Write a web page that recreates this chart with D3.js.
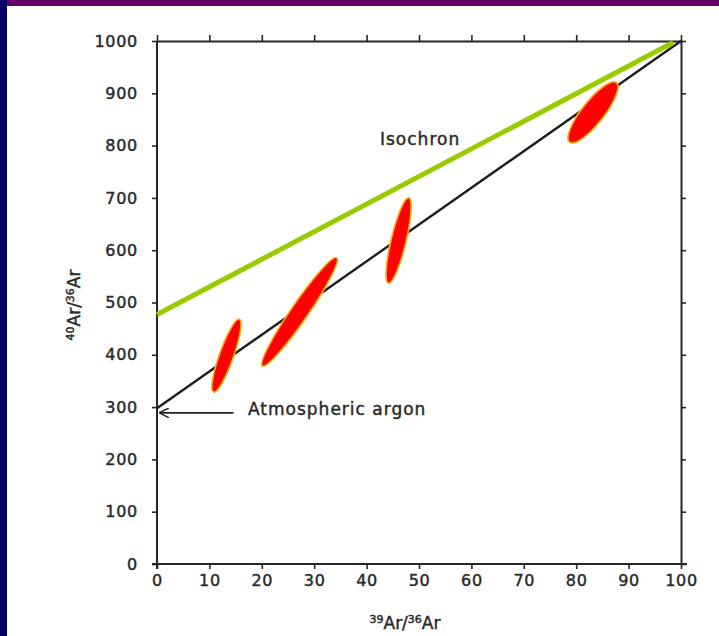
<!DOCTYPE html>
<html>
<head>
<meta charset="utf-8">
<script src="https://cdn.jsdelivr.net/npm/d3@7"></script>
<style>
  html, body { margin: 0; padding: 0; background: #ffffff; }
  svg { display: block; }
  text { font-family: "DejaVu Sans", Verdana, sans-serif; fill: #2a2a2a; stroke: #2a2a2a; stroke-width: 0.45px; }
</style>
</head>
<body>
<svg id="chart" width="719" height="636"></svg>
<script>
// Axis ticks
const xTicks = [0, 10, 20, 30, 40, 50, 60, 70, 80, 90, 100];
const yTicks = [0, 100, 200, 300, 400, 500, 600, 700, 800, 900, 1000];

// Reference line through atmospheric argon (40Ar/36Ar = 295.5 at 0)
const refLineX = [0, 100];
const refLineY = [298, 1000];

// Isochron fitted line
const isoLineX = [0, 98.5];
const isoLineY = [477, 997];

// Sample error ellipses: ends of the long axis in data units
const sampleTopX = [15.8, 34.4, 48.1, 87.8];
const sampleTopY = [470, 587, 702, 922];
const sampleBotX = [10.7, 20.0, 44.1, 78.6];
const sampleBotY = [327, 377, 535, 805];
const sampleHalfWidth = [7, 8.5, 7.5, 11];

const svg = d3.select("#chart");
const W = 719, H = 636;

// Slide frame
svg.append("rect").attr("x", 0).attr("y", 0).attr("width", W).attr("height", H).attr("fill", "#ffffff");
svg.append("rect").attr("x", 0).attr("y", 0).attr("width", W).attr("height", 6).attr("fill", "#660066");
svg.append("rect").attr("x", 0).attr("y", 0).attr("width", 7).attr("height", H).attr("fill", "#000066");

const x = d3.scaleLinear().domain([0, 100]).range([157, 681]);
const y = d3.scaleLinear().domain([0, 1000]).range([564, 41]);

const axisColor = "#262626";
const fmt = d3.format("d");

function styleAxis(g, showLabels) {
  g.select(".domain").attr("stroke", axisColor).attr("stroke-width", 2);
  g.selectAll(".tick line").attr("stroke", axisColor).attr("stroke-width", 1.6);
  g.selectAll(".tick text")
    .attr("font-size", 16)
    .attr("font-family", null)
    .attr("fill", "#2a2a2a")
    .style("letter-spacing", "0.7px")
    .style("display", showLabels ? null : "none");
}

svg.append("g").attr("transform", `translate(0,${y(0)})`)
  .call(d3.axisBottom(x).tickValues(xTicks).tickFormat(fmt).tickSize(5).tickSizeOuter(0).tickPadding(6))
  .call(g => styleAxis(g, true))
  .call(g => g.select(".domain").attr("d", `M${x(0) - 5},0H${x(100) + 6}`));

svg.append("g").attr("transform", `translate(0,${y(1000)})`)
  .call(d3.axisTop(x).tickValues(xTicks).tickSize(6).tickSizeOuter(0))
  .call(g => styleAxis(g, false));

svg.append("g").attr("transform", `translate(${x(0)},0)`)
  .call(d3.axisLeft(y).tickValues(yTicks).tickFormat(fmt).tickSize(5).tickSizeOuter(0).tickPadding(14))
  .call(g => styleAxis(g, true))
  .call(g => g.select(".domain").attr("d", `M0,${y(1000)}V${y(0) + 5}`));

svg.append("g").attr("transform", `translate(${x(100)},0)`)
  .call(d3.axisRight(y).tickValues(yTicks).tickSize(5).tickSizeOuter(0))
  .call(g => styleAxis(g, false));

// Reference line
const line = d3.line().x(d => x(d[0])).y(d => y(d[1]));
svg.append("path")
  .attr("d", line(d3.zip(refLineX, refLineY)))
  .attr("stroke", "#1e1e1e").attr("stroke-width", 2.4).attr("fill", "none");

// Arrow to the atmospheric argon intercept
const defs = svg.append("defs");
defs.append("marker")
  .attr("id", "arrowhead").attr("viewBox", "0 0 10 10")
  .attr("refX", 9).attr("refY", 5).attr("markerWidth", 10).attr("markerHeight", 10)
  .attr("markerUnits", "userSpaceOnUse").attr("orient", "auto")
  .append("path").attr("d", "M0,0L10,5L0,10").attr("fill", "none")
  .attr("stroke", "#222").attr("stroke-width", 1.5);

svg.append("line")
  .attr("x1", x(14.6)).attr("y1", y(289)).attr("x2", x(0.6)).attr("y2", y(289))
  .attr("stroke", "#222").attr("stroke-width", 1.6)
  .attr("marker-end", "url(#arrowhead)");

svg.append("text").attr("x", 248).attr("y", 415)
  .attr("font-size", 17).style("letter-spacing", "1px").text("Atmospheric argon");

svg.append("text").attr("x", 380).attr("y", 145)
  .attr("font-size", 17).style("letter-spacing", "1px").text("Isochron");

// Isochron line
svg.append("path")
  .attr("d", line(d3.zip(isoLineX, isoLineY)))
  .attr("stroke", "#99cc00").attr("stroke-width", 5).attr("fill", "none");

// Sample ellipses
const samples = d3.range(sampleTopX.length).map(i => {
  const x1 = x(sampleTopX[i]), y1 = y(sampleTopY[i]);
  const x2 = x(sampleBotX[i]), y2 = y(sampleBotY[i]);
  return {
    cx: (x1 + x2) / 2, cy: (y1 + y2) / 2,
    rx: Math.hypot(x1 - x2, y1 - y2) / 2 - 1,
    ry: sampleHalfWidth[i],
    angle: Math.atan2(y1 - y2, x1 - x2) * 180 / Math.PI
  };
});

svg.append("g").selectAll("ellipse").data(samples).join("ellipse")
  .attr("transform", d => `translate(${d.cx},${d.cy}) rotate(${d.angle})`)
  .attr("rx", d => d.rx).attr("ry", d => d.ry)
  .attr("fill", "#ff0000").attr("stroke", "#ffb000").attr("stroke-width", 1.6);

// Axis titles with isotope superscripts
function isotopeLabel(sel, a, b) {
  sel.append("tspan").attr("font-size", 11).attr("dy", -6).text(a);
  sel.append("tspan").attr("font-size", 17).attr("dy", 6).text("Ar/");
  sel.append("tspan").attr("font-size", 11).attr("dy", -6).text(b);
  sel.append("tspan").attr("font-size", 17).attr("dy", 6).text("Ar");
}

svg.append("text").attr("x", 405).attr("y", 629).attr("text-anchor", "middle")
  .call(t => isotopeLabel(t, "39", "36"));

svg.append("text").attr("transform", "translate(80,305) rotate(-90)").attr("text-anchor", "middle")
  .call(t => isotopeLabel(t, "40", "36"));
</script>
</body>
</html>
